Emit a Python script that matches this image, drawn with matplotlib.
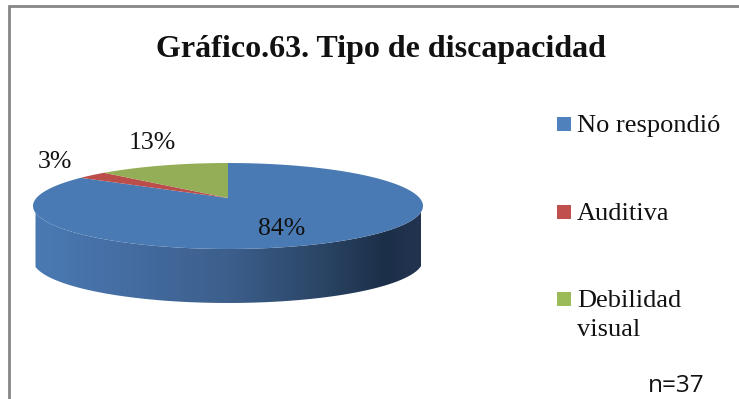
import numpy as np
import matplotlib
matplotlib.use("Agg")
import matplotlib.pyplot as plt
from matplotlib.colors import LinearSegmentedColormap
from matplotlib.patches import Polygon, Rectangle

categorias = ["No respondió", "Auditiva", "Debilidad\nvisual"]
valores = [84, 3, 13]
etiquetas = ["84%", "3%", "13%"]
colores = ["#4a7ab3", "#bb4d4a", "#93ae56"]
colores_leyenda = ["#4f81bd", "#c0504d", "#9bbb59"]

plt.rcParams["font.family"] = ["Liberation Serif", "DejaVu Serif"]

fig = plt.figure(figsize=(7.39, 3.99), dpi=100)
ax = fig.add_axes([0, 0, 1, 1])
ax.set_xlim(0, 739)
ax.set_ylim(399, 0)
ax.axis("off")

# pie geometry in pixels, k is the perspective of the tilted disc
cx, cy = 228, 198
rx, ry = 191.6, 41.5
k = 0.186
alto = 54


def borde(theta):
    u = np.sin(theta)
    v = np.cos(theta)
    d = 1 + k * v
    return cx + rx * u / d, cy - ry * v / d


# side wall with gradient, its sides are vertical so the edge is cut at both ends
t = np.linspace(np.pi / 2, 3 * np.pi / 2, 200)
xs, ys = borde(t)
xs[:100] = np.maximum.accumulate(xs[:100][::-1])[::-1]
xs[100:] = np.minimum.accumulate(xs[100:])
xs = np.clip(xs, 35.5, 421)
pared = np.column_stack([np.r_[xs, xs[::-1]], np.r_[ys, ys[::-1] + alto]])
cmap = LinearSegmentedColormap.from_list(
    "pared",
    [(0, "#4a7ab3"), (0.2, "#466fa5"), (0.5, "#3c5f8c"),
     (0.75, "#2a4464"), (0.9, "#1c2f49"), (1, "#22344f")],
)
img = ax.imshow(np.linspace(0, 1, 256).reshape(1, -1), cmap=cmap, aspect="auto",
                extent=[33, 423, 310, 190], zorder=1)
clip = Polygon(pared, closed=True, transform=ax.transData, fc="none", ec="none")
ax.add_patch(clip)
img.set_clip_path(clip)
ax.set_xlim(0, 739)
ax.set_ylim(399, 0)

# top face, clockwise from 12 o'clock with the last slice ending at the top
fracs = np.array(valores) / sum(valores)
fin = 0.0
for v, c in zip(fracs, colores):
    ang = np.linspace(fin, fin + v, 200) * 2 * np.pi
    ax_x, ax_y = borde(ang)
    ax.fill(np.r_[cx, ax_x], np.r_[cy, ax_y], color=c, lw=0, zorder=2)
    fin += v

# labels
pos_etiq = [(282, 229), (55, 162), (152, 143)]
for e, p in zip(etiquetas, pos_etiq):
    ax.text(p[0], p[1], e, fontsize=18.5, ha="center", va="center", color="#111111", zorder=3)

ax.text(381, 50, "Gráfico.63. Tipo de discapacidad", fontsize=23, fontweight="bold",
        ha="center", va="center", color="#111111")

# legend
pos_ley = [124, 212, 299]
for nombre, c, y in zip(categorias, colores_leyenda, pos_ley):
    ax.add_patch(Rectangle((557, y - 7), 14, 14, fc=c, ec="none"))
    ax.text(577, y - 9, nombre, fontsize=19, ha="left", va="top", color="#111111",
            linespacing=1.41)

ax.text(676, 386, "n=37", fontsize=17.5, family=["Open Sans"], ha="center", va="center",
        color="#111111")

# outer frame
ax.plot([9, 9, 739], [399, 6, 6], color="#868686", lw=2, solid_joinstyle="miter")

fig.savefig("out.png", dpi=100)
